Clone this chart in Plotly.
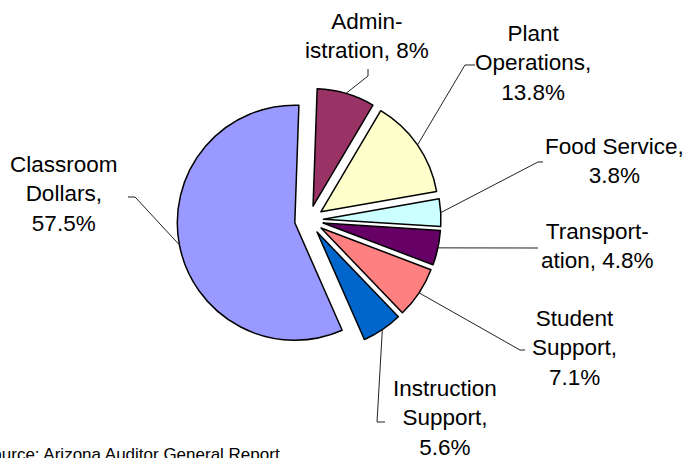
import math
import plotly.graph_objects as go

# --- data ---
categories = ["Administration", "Plant Operations", "Food Service", "Transportation",
              "Student Support", "Instruction Support", "Classroom Dollars"]
shares = [8, 13.8, 3.8, 4.8, 7.1, 5.6, 57.5]
label_fmt = ["Admin-<br>istration, {}%", "Plant<br>Operations,<br>{}%", "Food Service,<br>{}%",
             "Transport-<br>ation, {}%", "Student<br>Support,<br>{}%", "Instruction<br>Support,<br>{}%",
             "Classroom<br>Dollars,<br>{}%"]
colors = ["#993366", "#FFFFCC", "#CCFFFF", "#660066", "#FF8080", "#0066CC", "#9999FF"]
source_text = "Source: Arizona Auditor General Report"

# --- layout geometry (pixels) ---
W, H = 683, 458
CX, CY = 309, 220      # pie centre
R = 117.5              # pie radius
PULL = 0.123           # explode fraction
ROT = 2                # start angle, clockwise from 12 o'clock

# label block centres and the elbow points of the leader lines
label_pos = [(367, 36), (533, 63), (614, 161), (597, 246), (574, 348), (445, 418), (64, 194)]
elbows = [
    [(368, 69), (368, 76)],
    [(475, 65), (465, 65)],
    [(543, 162), (538, 162)],
    [(538, 248)],
    [(525, 350), (520, 350)],
    [(385, 422), (377, 422)],
    [(128, 197), (135, 197)],
]


def px(x, y):
    return x / W, 1 - y / H


half = R * (1 + PULL)
dx0, dy1 = px(CX - half, CY - half)
dx1, dy0 = px(CX + half, CY + half)

fig = go.Figure()
fig.add_trace(go.Pie(
    labels=categories,
    values=shares,
    sort=False,
    direction="clockwise",
    rotation=ROT,
    pull=PULL,
    marker=dict(colors=colors, line=dict(color="black", width=1.5)),
    textinfo="none",
    hoverinfo="label+percent",
    showlegend=False,
    domain=dict(x=[dx0, dx1], y=[dy0, dy1]),
))

# labels with leader lines running to the middle of each slice's arc
total = sum(shares)
cum = 0
shapes = []
annotations = []
for v, fmt, (lx, ly), pts in zip(shares, label_fmt, label_pos, elbows):
    theta = math.radians(ROT + (cum + v / 2) / total * 360)
    cum += v
    ex = CX + half * math.sin(theta)
    ey = CY - half * math.cos(theta)
    path_pts = [px(x, y) for x, y in pts + [(ex, ey)]]
    path = "M " + " L ".join(f"{x:.4f},{y:.4f}" for x, y in path_pts)
    shapes.append(dict(type="path", xref="paper", yref="paper", path=path,
                       line=dict(color="#222", width=1)))
    ax, ay = px(lx, ly)
    annotations.append(dict(text=fmt.format(f"{v:g}"), x=ax, y=ay, xref="paper", yref="paper",
                            xanchor="center", yanchor="middle", showarrow=False, align="center",
                            font=dict(size=22.5, color="black")))

# source note, partly off the left/bottom edge as in the original
sx, sy = px(-21, 454)
annotations.append(dict(text=source_text, x=sx, y=sy, xref="paper", yref="paper",
                        xanchor="left", yanchor="middle", showarrow=False,
                        font=dict(size=17, color="black")))

fig.update_layout(
    width=W, height=H,
    margin=dict(l=0, r=0, t=0, b=0),
    paper_bgcolor="white",
    plot_bgcolor="white",
    font=dict(family="Liberation Sans, Arial, sans-serif", color="black"),
    shapes=shapes,
    annotations=annotations,
    showlegend=False,
)

# page body has a default margin; drop it so the figure sits at the window corner
fig.write_html("out.html", config={"displayModeBar": False},
               post_script="document.body.style.margin='0';")
